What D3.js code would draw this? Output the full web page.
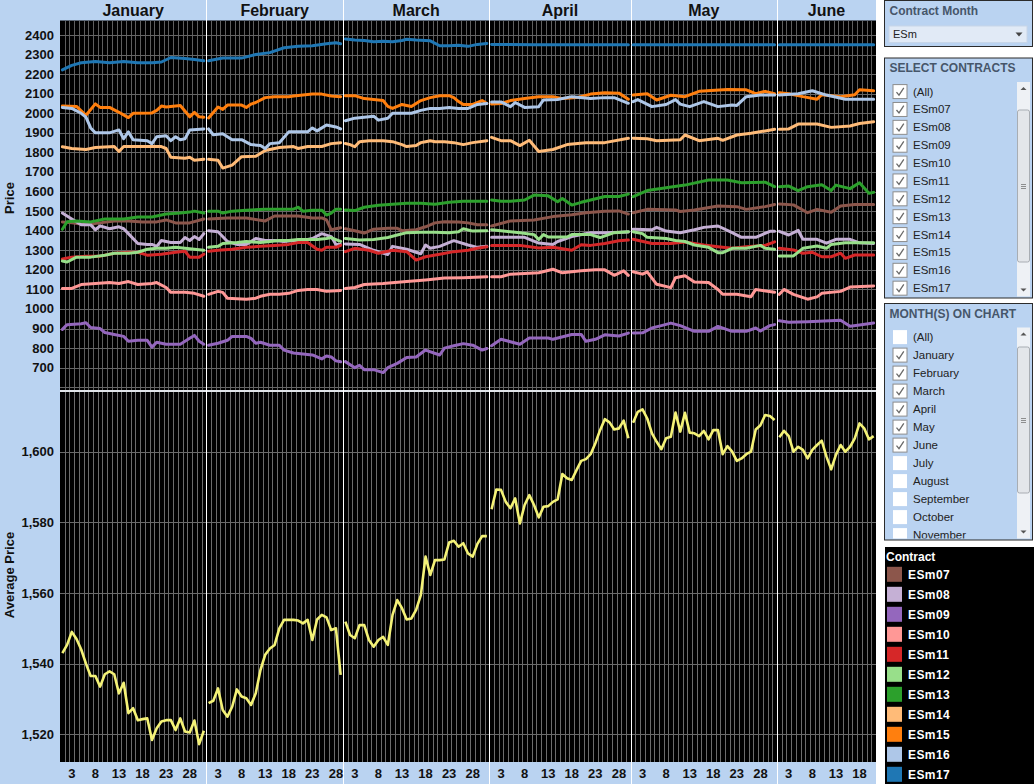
<!DOCTYPE html>
<html>
<head>
<meta charset="utf-8">
<script src="https://cdn.jsdelivr.net/npm/d3@7"></script>
<style>
  body { margin: 0; background: #fff; }
  svg { display: block; font-family: Arial, 'Liberation Sans', sans-serif; }
</style>
</head>
<body>
<svg id="chart"></svg>
<script>
const months = ['January', 'February', 'March', 'April', 'May', 'June'];
const monthDays = [31, 29, 31, 30, 31, 21];
const dayTicks = [3, 8, 13, 18, 23, 28];
const priceTicks = d3.range(700, 2401, 100);
const priceGrid = d3.range(600, 2401, 100);
const avgTicks = [1520, 1540, 1560, 1580, 1600];
const contracts = ['ESm07', 'ESm08', 'ESm09', 'ESm10', 'ESm11', 'ESm12', 'ESm13', 'ESm14', 'ESm15', 'ESm16', 'ESm17'];
const contractColors = ['#8c564b', '#c5b0d5', '#9467bd', '#ff9896', '#d62728', '#98df8a', '#2ca02c', '#ffbb78', '#ff7f0e', '#aec7e8', '#1f77b4'];
const monthFilter = ['(All)', 'January', 'February', 'March', 'April', 'May', 'June', 'July', 'August', 'September', 'October', 'November'];

// [month index, day, price]
const ESm07 = [
  [0,1,1445],[0,3,1440],[0,6,1430],[0,9,1440],[0,12,1450],[0,15,1450],[0,18,1445],[0,21,1445],[0,23,1455],[0,25,1440],[0,28,1440],[0,31,1460],
  [1,1,1460],[1,5,1465],[1,9,1465],[1,13,1450],[1,15,1475],[1,18,1475],[1,20,1475],[1,23,1465],[1,25,1465],[1,26,1455],[1,27,1405],[1,28,1410],[1,29,1415],
  [2,1,1410],[2,3,1400],[2,5,1388],[2,7,1408],[2,10,1412],[2,12,1412],[2,13,1400],[2,16,1405],[2,18,1420],[2,20,1440],[2,22,1446],[2,25,1445],[2,27,1440],[2,29,1430],[2,31,1430],
  [3,1,1424],[3,5,1450],[3,10,1455],[3,14,1472],[3,18,1482],[3,21,1492],[3,25,1500],[3,28,1501],[3,30,1485],
  [4,1,1492],[4,4,1509],[4,10,1506],[4,11,1498],[4,14,1506],[4,19,1526],[4,23,1523],[4,25,1509],[4,29,1523],[4,31,1534],
  [5,1,1536],[5,4,1532],[5,7,1492],[5,9,1509],[5,12,1494],[5,14,1526],[5,17,1534],[5,21,1534]
];
const ESm08 = [
  [0,1,1490],[0,3,1460],[0,5,1430],[0,7,1430],[0,8,1405],[0,9,1425],[0,11,1410],[0,13,1420],[0,14,1410],[0,15,1385],[0,17,1335],[0,19,1330],[0,20,1330],[0,21,1320],[0,22,1350],[0,24,1340],[0,26,1340],[0,27,1365],[0,28,1350],[0,29,1370],[0,30,1355],[0,31,1385],
  [1,1,1400],[1,3,1395],[1,5,1345],[1,7,1330],[1,9,1330],[1,11,1360],[1,13,1350],[1,15,1350],[1,17,1345],[1,19,1350],[1,21,1350],[1,23,1360],[1,25,1385],[1,27,1370],[1,28,1330],[1,29,1330],
  [2,1,1332],[2,4,1330],[2,7,1300],[2,10,1278],[2,11,1320],[2,14,1305],[2,17,1282],[2,18,1327],[2,19,1310],[2,21,1320],[2,24,1349],[2,27,1327],[2,29,1315],[2,31,1320],
  [3,1,1366],[3,8,1366],[3,11,1337],[3,14,1330],[3,15,1345],[3,18,1370],[3,22,1390],[3,25,1390],[3,30,1393],
  [4,1,1407],[4,5,1405],[4,6,1417],[4,8,1398],[4,11,1390],[4,14,1405],[4,16,1417],[4,19,1424],[4,22,1390],[4,24,1366],[4,27,1366],[4,30,1397],[4,31,1397],
  [5,1,1397],[5,3,1378],[5,5,1402],[5,6,1356],[5,9,1356],[5,11,1336],[5,13,1356],[5,16,1356],[5,18,1338],[5,21,1335]
];
const ESm09 = [
  [0,1,896],[0,2,920],[0,5,925],[0,6,930],[0,7,905],[0,9,900],[0,10,880],[0,12,870],[0,14,860],[0,15,835],[0,17,840],[0,19,840],[0,20,805],[0,21,830],[0,23,820],[0,26,820],[0,28,850],[0,29,865],[0,30,835],[0,31,820],
  [1,1,815],[1,3,825],[1,5,840],[1,6,860],[1,8,860],[1,9,860],[1,10,850],[1,11,825],[1,12,830],[1,14,815],[1,16,815],[1,17,790],[1,19,775],[1,21,770],[1,23,765],[1,25,745],[1,26,760],[1,27,755],[1,28,735],[1,29,730],
  [2,1,731],[2,3,700],[2,4,712],[2,5,690],[2,7,690],[2,9,675],[2,10,700],[2,12,722],[2,14,752],[2,16,755],[2,18,790],[2,21,765],[2,22,800],[2,24,812],[2,26,823],[2,28,815],[2,30,790],[2,31,798],
  [3,1,812],[3,3,845],[3,7,820],[3,9,852],[3,13,852],[3,14,845],[3,18,870],[3,20,870],[3,21,835],[3,23,845],[3,25,868],[3,28,862],[3,30,877],
  [4,1,877],[4,3,878],[4,5,903],[4,7,915],[4,9,928],[4,11,915],[4,14,886],[4,17,886],[4,19,911],[4,22,886],[4,25,886],[4,27,903],[4,28,888],[4,30,915],[4,31,920],
  [5,1,940],[5,3,932],[5,7,935],[5,14,943],[5,16,912],[5,18,918],[5,21,928]
];
const ESm10 = [
  [0,1,1105],[0,3,1105],[0,5,1125],[0,8,1130],[0,11,1135],[0,13,1130],[0,15,1140],[0,17,1125],[0,20,1130],[0,21,1135],[0,23,1110],[0,24,1085],[0,27,1085],[0,29,1080],[0,31,1065],
  [1,1,1075],[1,3,1090],[1,4,1085],[1,5,1055],[1,9,1050],[1,11,1055],[1,12,1065],[1,14,1075],[1,16,1075],[1,18,1080],[1,20,1095],[1,22,1100],[1,24,1100],[1,26,1090],[1,29,1095],
  [2,1,1105],[2,3,1110],[2,5,1125],[2,9,1130],[2,14,1140],[2,18,1148],[2,22,1158],[2,26,1160],[2,31,1165],
  [3,1,1165],[3,3,1165],[3,5,1178],[3,11,1185],[3,14,1203],[3,16,1185],[3,20,1195],[3,23,1200],[3,25,1200],[3,27,1172],[3,29,1195],[3,30,1172],
  [4,1,1190],[4,3,1178],[4,4,1190],[4,6,1126],[4,9,1109],[4,10,1160],[4,12,1170],[4,14,1138],[4,17,1135],[4,19,1100],[4,20,1075],[4,23,1075],[4,26,1063],[4,27,1100],[4,31,1085],
  [5,1,1075],[5,2,1100],[5,4,1075],[5,7,1050],[5,9,1062],[5,10,1080],[5,14,1090],[5,16,1112],[5,21,1118]
];
const ESm11 = [
  [0,1,1255],[0,3,1265],[0,6,1270],[0,9,1270],[0,12,1285],[0,15,1290],[0,17,1290],[0,19,1275],[0,22,1280],[0,25,1290],[0,27,1295],[0,28,1265],[0,30,1265],[0,31,1280],
  [1,1,1295],[1,3,1300],[1,6,1305],[1,9,1315],[1,12,1320],[1,15,1325],[1,18,1330],[1,20,1340],[1,22,1340],[1,24,1305],[1,25,1300],[1,26,1315],[1,28,1315],[1,29,1325],
  [2,1,1293],[2,3,1310],[2,6,1300],[2,8,1285],[2,11,1300],[2,14,1293],[2,16,1250],[2,18,1267],[2,21,1280],[2,24,1293],[2,27,1300],[2,29,1310],[2,31,1318],
  [3,1,1325],[3,7,1325],[3,11,1312],[3,14,1315],[3,18,1300],[3,20,1328],[3,22,1325],[3,25,1335],[3,28,1349],[3,30,1352],
  [4,1,1356],[4,5,1335],[4,9,1335],[4,12,1342],[4,16,1327],[4,19,1318],[4,22,1310],[4,25,1318],[4,29,1325],[4,31,1343],
  [5,1,1310],[5,4,1302],[5,6,1285],[5,8,1290],[5,10,1267],[5,12,1267],[5,14,1285],[5,15,1259],[5,17,1276],[5,21,1276]
];
const ESm12 = [
  [0,1,1245],[0,2,1240],[0,4,1265],[0,7,1265],[0,10,1275],[0,12,1285],[0,15,1285],[0,17,1290],[0,19,1305],[0,21,1310],[0,23,1310],[0,25,1315],[0,27,1310],[0,29,1305],[0,31,1300],
  [1,1,1315],[1,3,1320],[1,4,1335],[1,7,1340],[1,9,1345],[1,12,1340],[1,14,1345],[1,16,1350],[1,18,1350],[1,20,1355],[1,22,1355],[1,24,1355],[1,26,1360],[1,27,1365],[1,28,1355],[1,29,1345],
  [2,1,1360],[2,4,1352],[2,7,1355],[2,10,1365],[2,12,1378],[2,14,1390],[2,17,1392],[2,20,1392],[2,23,1390],[2,25,1395],[2,26,1410],[2,28,1398],[2,31,1400],
  [3,1,1405],[3,3,1400],[3,7,1390],[3,10,1380],[3,11,1355],[3,12,1380],[3,13,1368],[3,17,1368],[3,18,1380],[3,22,1380],[3,24,1365],[3,27,1390],[3,30,1395],
  [4,1,1395],[4,3,1385],[4,4,1366],[4,8,1360],[4,10,1350],[4,12,1345],[4,14,1327],[4,17,1315],[4,19,1288],[4,20,1288],[4,22,1310],[4,25,1310],[4,28,1325],[4,29,1310],[4,31,1305],
  [5,1,1271],[5,4,1271],[5,6,1310],[5,9,1322],[5,11,1310],[5,12,1330],[5,15,1338],[5,21,1338]
];
const ESm13 = [
  [0,1,1407],[0,2,1446],[0,4,1450],[0,7,1445],[0,10,1460],[0,14,1460],[0,17,1470],[0,20,1470],[0,23,1485],[0,26,1490],[0,28,1495],[0,29,1500],[0,31,1490],
  [1,1,1500],[1,3,1500],[1,4,1490],[1,6,1500],[1,9,1505],[1,13,1510],[1,16,1510],[1,19,1510],[1,20,1520],[1,21,1500],[1,23,1505],[1,25,1505],[1,26,1480],[1,27,1490],[1,28,1510],[1,29,1510],
  [2,1,1506],[2,3,1503],[2,5,1520],[2,8,1530],[2,11,1535],[2,14,1540],[2,17,1540],[2,20,1535],[2,23,1545],[2,26,1550],[2,28,1550],[2,31,1550],
  [3,1,1557],[3,3,1550],[3,5,1550],[3,8,1557],[3,10,1582],[3,13,1578],[3,15,1548],[3,16,1565],[3,18,1531],[3,20,1545],[3,22,1557],[3,25,1575],[3,28,1575],[3,30,1587],
  [4,1,1574],[4,4,1605],[4,8,1620],[4,12,1633],[4,17,1659],[4,21,1659],[4,24,1645],[4,29,1648],[4,31,1625],
  [5,1,1625],[5,3,1628],[5,5,1605],[5,7,1625],[5,10,1635],[5,12,1605],[5,13,1633],[5,16,1615],[5,18,1645],[5,20,1591],[5,21,1596]
];
const ESm14 = [
  [0,1,1829],[0,3,1820],[0,6,1815],[0,8,1825],[0,12,1830],[0,13,1805],[0,14,1830],[0,16,1830],[0,20,1830],[0,22,1830],[0,23,1820],[0,24,1775],[0,27,1770],[0,28,1775],[0,29,1760],[0,31,1765],
  [1,1,1765],[1,3,1760],[1,4,1720],[1,6,1735],[1,8,1778],[1,11,1780],[1,13,1810],[1,16,1825],[1,19,1830],[1,20,1820],[1,22,1830],[1,25,1830],[1,27,1845],[1,29,1850],
  [2,1,1846],[2,2,1840],[2,3,1829],[2,4,1855],[2,6,1860],[2,9,1860],[2,11,1855],[2,13,1840],[2,14,1830],[2,16,1835],[2,17,1850],[2,18,1855],[2,19,1860],[2,20,1855],[2,22,1855],[2,24,1850],[2,26,1840],[2,28,1850],[2,31,1860],
  [3,1,1877],[3,3,1860],[3,5,1860],[3,7,1835],[3,9,1862],[3,11,1805],[3,14,1815],[3,17,1840],[3,21,1850],[3,25,1850],[3,30,1872],
  [4,1,1872],[4,4,1870],[4,6,1860],[4,11,1865],[4,12,1889],[4,15,1860],[4,19,1872],[4,20,1862],[4,23,1889],[4,26,1898],[4,29,1910],[4,31,1918],
  [5,1,1918],[5,3,1920],[5,5,1945],[5,9,1945],[5,12,1928],[5,16,1935],[5,18,1948],[5,21,1957]
];
const ESm15 = [
  [0,1,2037],[0,4,2035],[0,6,1990],[0,8,2048],[0,9,2030],[0,11,2030],[0,13,2005],[0,15,1978],[0,16,2000],[0,20,2002],[0,21,2015],[0,22,2037],[0,23,2032],[0,26,2040],[0,28,1982],[0,29,2005],[0,30,1982],[0,31,1980],
  [1,1,1976],[1,3,2032],[1,4,2020],[1,5,2042],[1,8,2042],[1,9,2030],[1,10,2047],[1,11,2055],[1,13,2080],[1,15,2085],[1,18,2085],[1,19,2088],[1,21,2093],[1,23,2098],[1,25,2098],[1,27,2088],[1,29,2085],
  [2,1,2090],[2,3,2090],[2,5,2075],[2,7,2070],[2,9,2065],[2,10,2035],[2,11,2025],[2,13,2045],[2,15,2035],[2,17,2065],[2,19,2080],[2,21,2090],[2,23,2090],[2,24,2080],[2,25,2060],[2,26,2045],[2,28,2045],[2,30,2065],[2,31,2050],
  [3,1,2047],[3,3,2050],[3,5,2065],[3,8,2075],[3,11,2085],[3,14,2085],[3,16,2075],[3,19,2080],[3,22,2098],[3,25,2105],[3,28,2103],[3,30,2072],
  [4,1,2093],[4,4,2100],[4,6,2068],[4,9,2092],[4,12,2085],[4,15,2112],[4,21,2122],[4,25,2120],[4,27,2100],[4,29,2112],[4,31,2100],
  [5,1,2105],[5,3,2100],[5,6,2085],[5,9,2072],[5,10,2095],[5,14,2085],[5,17,2095],[5,18,2120],[5,21,2115]
];
const ESm16 = [
  [0,1,2030],[0,3,2025],[0,5,2000],[0,6,1980],[0,7,1925],[0,8,1900],[0,11,1900],[0,13,1915],[0,14,1870],[0,15,1905],[0,16,1865],[0,19,1860],[0,20,1845],[0,21,1880],[0,23,1885],[0,24,1860],[0,25,1880],[0,26,1865],[0,27,1870],[0,28,1915],[0,31,1920],
  [1,1,1920],[1,2,1890],[1,4,1895],[1,6,1865],[1,8,1865],[1,10,1840],[1,12,1835],[1,13,1820],[1,14,1845],[1,16,1850],[1,18,1905],[1,20,1905],[1,22,1905],[1,23,1925],[1,24,1910],[1,26,1940],[1,28,1930],[1,29,1920],
  [2,1,1962],[2,3,1975],[2,5,1980],[2,7,1985],[2,8,1965],[2,10,1975],[2,11,2000],[2,13,2000],[2,15,2000],[2,17,2015],[2,19,2025],[2,21,2025],[2,23,2030],[2,25,2025],[2,27,2025],[2,29,2045],[2,31,2050],
  [3,1,2058],[3,3,2058],[3,5,2034],[3,6,2055],[3,8,2030],[3,11,2034],[3,12,2068],[3,15,2070],[3,18,2085],[3,22,2075],[3,25,2080],[3,27,2080],[3,30,2051],
  [4,1,2059],[4,2,2070],[4,5,2034],[4,8,2045],[4,10,2070],[4,11,2047],[4,13,2034],[4,16,2060],[4,19,2034],[4,22,2042],[4,23,2040],[4,25,2085],[4,28,2093],[4,31,2093],
  [5,1,2093],[5,5,2100],[5,8,2115],[5,11,2093],[5,15,2072],[5,21,2072]
];
const ESm17 = [
  [0,1,2222],[0,3,2245],[0,5,2258],[0,8,2265],[0,11,2258],[0,14,2265],[0,17,2258],[0,20,2258],[0,22,2262],[0,24,2285],[0,27,2280],[0,29,2275],[0,31,2268],
  [1,1,2268],[1,4,2282],[1,8,2282],[1,11,2300],[1,14,2310],[1,17,2335],[1,20,2342],[1,23,2345],[1,26,2355],[1,28,2360],[1,29,2355],
  [2,1,2380],[2,3,2375],[2,5,2372],[2,7,2365],[2,9,2368],[2,11,2366],[2,13,2372],[2,14,2378],[2,16,2374],[2,19,2370],[2,21,2345],[2,23,2345],[2,25,2348],[2,27,2342],[2,29,2352],[2,31,2357],
  [3,1,2352],[3,10,2350],[3,20,2350],[3,30,2350],
  [4,1,2350],[4,31,2350],
  [5,1,2350],[5,21,2350]
];
const seriesData = [ESm07, ESm08, ESm09, ESm10, ESm11, ESm12, ESm13, ESm14, ESm15, ESm16, ESm17];

// average price, one value per calendar day
const avgJan = [1543,1545.3,1549,1547,1544,1540,1536.5,1536.5,1533.5,1537,1537.8,1537,1531.6,1534.6,1526,1527.4,1524,1524.3,1524.5,1518.4,1521.7,1523.6,1524,1524,1521.2,1524.5,1520.8,1520.5,1523.9,1517.2,1521];
const avgFeb = [1528.8,1529.5,1533,1526.9,1525,1527.8,1532.7,1530.7,1530.2,1528.3,1531.6,1538.2,1542.5,1544.3,1545.3,1550,1552.4,1552.4,1552.4,1552.2,1551.4,1552.4,1546.7,1552.5,1553.8,1553.1,1549.5,1550,1536.8];
const avgMar = [1551.9,1548.1,1547.2,1550.9,1550.9,1546.7,1544.8,1546.7,1547.6,1545.3,1553.8,1558,1555.7,1552.5,1552.8,1555.2,1559.4,1570.3,1565.1,1569.3,1569.3,1569.5,1574.3,1574.8,1573.1,1574.1,1571.2,1570.3,1573.9,1576.1,1576.1];
const avgApr = [1583.7,1589.3,1589.2,1585.8,1584,1586.8,1579.7,1584.9,1587.7,1584.9,1581.4,1584.4,1584.6,1585.8,1586.5,1593.7,1592.5,1592,1594.8,1597.4,1597.9,1599.3,1602.4,1606.1,1609.2,1608.3,1606.3,1606.6,1608.8,1603.8];
const avgMay = [1608.2,1611.3,1612,1609.4,1605.2,1602.8,1600.7,1603.8,1604.2,1611.1,1605.7,1611,1605.4,1605.2,1604.4,1605.9,1603.5,1606.1,1606.1,1599.3,1601.6,1600,1597.4,1598.1,1599.3,1600,1606.3,1607.5,1610.4,1610.1,1609];
const avgJun = [1604.1,1605.9,1604.4,1600,1601.4,1600.5,1598.1,1600.5,1601.9,1603.1,1598.6,1595,1599.1,1601.9,1600,1601.4,1603.8,1608,1606.6,1603.5,1604.4];
const avgByMonth = [avgJan, avgFeb, avgMar, avgApr, avgMay, avgJun];

const W = 1034, H = 784;
const plotL = 60, plotR = 876;
const topY0 = 20.5, topY1 = 390.3;
const botY0 = 391.7, botY1 = 762;
const bgBlue = '#bad3f1';

const svg = d3.select('#chart').attr('width', W).attr('height', H);

// one band per calendar day, months laid side by side
const dayKeys = [];
months.forEach((m, mi) => {
  for (let d = 1; d <= monthDays[mi]; d++) dayKeys.push(mi + '-' + d);
});
const x = d3.scaleBand().domain(dayKeys).range([plotL, plotR]).padding(0);
const xc = (mi, d) => x(mi + '-' + d) + x.bandwidth() / 2;
const monthStart = mi => x(mi + '-1');
const monthEnd = mi => x(mi + '-' + monthDays[mi]) + x.bandwidth();

const yTop = d3.scaleLinear().domain([700, 2400]).range([367.7, 35]);
const yBot = d3.scaleLinear().domain([1520, 1600]).range([734.3, 451.7]);

// backgrounds
svg.append('rect').attr('x', 0).attr('y', 0).attr('width', plotR).attr('height', H).attr('fill', bgBlue);
svg.append('rect').attr('x', plotL).attr('y', topY0).attr('width', plotR - plotL).attr('height', topY1 - topY0).attr('fill', '#000');
svg.append('rect').attr('x', plotL).attr('y', botY0).attr('width', plotR - plotL).attr('height', botY1 - botY0).attr('fill', '#000');

const defs = svg.append('defs');
defs.append('clipPath').attr('id', 'clipTop').append('rect')
  .attr('x', plotL).attr('y', topY0).attr('width', plotR - plotL).attr('height', topY1 - topY0);
defs.append('clipPath').attr('id', 'clipBot').append('rect')
  .attr('x', plotL).attr('y', botY0).attr('width', plotR - plotL).attr('height', botY1 - botY0);

// vertical day grid
const grid = svg.append('g').attr('shape-rendering', 'crispEdges');
dayKeys.forEach(k => {
  if (k.endsWith('-1')) return;
  const gx = Math.round(x(k)) + 0.5;
  grid.append('line').attr('x1', gx).attr('x2', gx).attr('y1', topY0).attr('y2', topY1)
    .attr('stroke', '#5e5e5e').attr('stroke-width', 1);
  grid.append('line').attr('x1', gx).attr('x2', gx).attr('y1', botY0).attr('y2', botY1)
    .attr('stroke', '#6c6c6c').attr('stroke-width', 1);
});

// horizontal grid
priceGrid.forEach(v => {
  const gy = Math.round(yTop(v)) + 0.5;
  if (gy < topY0 || gy > topY1) return;
  grid.append('line').attr('x1', plotL).attr('x2', plotR).attr('y1', gy).attr('y2', gy)
    .attr('stroke', '#666').attr('stroke-width', 1);
});
avgTicks.forEach(v => {
  const gy = Math.round(yBot(v)) + 0.5;
  grid.append('line').attr('x1', plotL).attr('x2', plotR).attr('y1', gy).attr('y2', gy)
    .attr('stroke', '#6a6a6a').attr('stroke-width', 1);
});

// separator between the two panes
svg.append('line').attr('x1', plotL).attr('x2', plotR).attr('y1', 391).attr('y2', 391)
  .attr('stroke', '#fff').attr('stroke-width', 1.3);

// month separators
months.forEach((m, mi) => {
  if (mi === 0) return;
  const sx = Math.round(monthStart(mi)) + 0.5;
  svg.append('line').attr('x1', sx).attr('x2', sx).attr('y1', 0).attr('y2', H)
    .attr('stroke', '#fff').attr('stroke-width', 1).attr('shape-rendering', 'crispEdges');
});

// month headers
months.forEach((m, mi) => {
  svg.append('text')
    .attr('x', (monthStart(mi) + monthEnd(mi)) / 2)
    .attr('y', 15.5)
    .attr('text-anchor', 'middle')
    .attr('font-size', 16).attr('font-weight', 'bold').attr('fill', '#111')
    .text(m);
});

// y tick labels
priceTicks.forEach(v => {
  svg.append('text').attr('x', 54).attr('y', yTop(v) + 4.5)
    .attr('text-anchor', 'end').attr('font-size', 13).attr('font-weight', 'bold').attr('fill', '#111')
    .text(v);
});
avgTicks.forEach(v => {
  svg.append('text').attr('x', 54).attr('y', yBot(v) + 4.5)
    .attr('text-anchor', 'end').attr('font-size', 13).attr('font-weight', 'bold').attr('fill', '#111')
    .text(d3.format(',')(v));
});

// axis titles
svg.append('text').attr('transform', 'translate(14,198) rotate(-90)')
  .attr('text-anchor', 'middle').attr('font-size', 13).attr('font-weight', 'bold').attr('fill', '#111')
  .text('Price');
svg.append('text').attr('transform', 'translate(14,575) rotate(-90)')
  .attr('text-anchor', 'middle').attr('font-size', 13).attr('font-weight', 'bold').attr('fill', '#111')
  .text('Average Price');

// day ticks at the bottom
months.forEach((m, mi) => {
  dayTicks.filter(d => d <= monthDays[mi]).forEach(d => {
    svg.append('text').attr('x', xc(mi, d)).attr('y', 777.5)
      .attr('text-anchor', 'middle').attr('font-size', 13).attr('font-weight', 'bold').attr('fill', '#111')
      .text(d);
  });
});

// contract lines, broken at every month
const topLine = d3.line().x(p => xc(p[0], p[1])).y(p => yTop(p[2]));
const topG = svg.append('g').attr('clip-path', 'url(#clipTop)');
seriesData.forEach((series, si) => {
  d3.groups(series, p => p[0]).forEach(([mi, pts]) => {
    topG.append('path')
      .attr('d', topLine(pts))
      .attr('fill', 'none')
      .attr('stroke', contractColors[si])
      .attr('stroke-width', 3)
      .attr('stroke-linejoin', 'round')
      .attr('stroke-linecap', 'round');
  });
});

// average price line
const botLine = d3.line().x(p => xc(p[0], p[1])).y(p => yBot(p[2]));
const botG = svg.append('g').attr('clip-path', 'url(#clipBot)');
avgByMonth.forEach((vals, mi) => {
  const pts = vals.map((v, i) => [mi, i + 1, v]);
  botG.append('path')
    .attr('d', botLine(pts))
    .attr('fill', 'none')
    .attr('stroke', '#f4f277')
    .attr('stroke-width', 2.6)
    .attr('stroke-linejoin', 'round');
});

// ---- right side widgets ----
const panelX = 884.5, panelW = 148;
const titleColor = '#46566a';

function drawCheck(g, bx, by, checked, bordered) {
  g.append('rect').attr('x', bx).attr('y', by).attr('width', 14).attr('height', 14)
    .attr('fill', '#fff').attr('stroke', bordered ? '#8c8c8c' : 'none').attr('stroke-width', 1);
  if (checked) {
    g.append('path')
      .attr('d', `M${bx + 3.5},${by + 7.5} L${bx + 6},${by + 10.5} L${bx + 10.8},${by + 3.2}`)
      .attr('fill', 'none').attr('stroke', '#6a6a6a').attr('stroke-width', 1.3);
  }
}

function drawScroll(g, sx, y0, y1, t0, t1) {
  g.append('rect').attr('x', sx).attr('y', y0).attr('width', 13).attr('height', y1 - y0).attr('fill', '#eef1f5');
  g.append('path').attr('d', `M${sx + 3.5},${y0 + 8} L${sx + 6.5},${y0 + 5} L${sx + 9.5},${y0 + 8}Z`).attr('fill', '#555');
  g.append('path').attr('d', `M${sx + 3.5},${y1 - 8} L${sx + 6.5},${y1 - 5} L${sx + 9.5},${y1 - 8}Z`).attr('fill', '#555');
  g.append('rect').attr('x', sx + 0.5).attr('y', t0).attr('width', 12).attr('height', t1 - t0).attr('rx', 2)
    .attr('fill', '#e3e6ea').attr('stroke', '#a8adb3');
  const gy = (t0 + t1) / 2;
  [-2, 0, 2].forEach(o => {
    g.append('line').attr('x1', sx + 4).attr('x2', sx + 9).attr('y1', gy + o + 0.5).attr('y2', gy + o + 0.5)
      .attr('stroke', '#777').attr('stroke-width', 0.8);
  });
}

function drawList(top, height, title, items, step, checkedFn, borderFn, scroll) {
  const g = svg.append('g');
  g.append('rect').attr('x', panelX).attr('y', top).attr('width', panelW).attr('height', height)
    .attr('fill', bgBlue).attr('stroke', '#2b2b2b').attr('stroke-width', 1);
  g.append('text').attr('x', panelX + 5).attr('y', top + 14)
    .attr('font-size', 12).attr('font-weight', 'bold').attr('fill', titleColor).text(title);
  const clipId = 'clip' + Math.round(top);
  defs.append('clipPath').attr('id', clipId).append('rect')
    .attr('x', panelX).attr('y', top + 21).attr('width', panelW).attr('height', height - 22.5);
  const list = g.append('g').attr('clip-path', `url(#${clipId})`);
  items.forEach((it, i) => {
    const cy = top + 33.6 + i * step;
    drawCheck(list, 893, cy - 7, checkedFn(i), borderFn(i));
    list.append('text').attr('x', 913).attr('y', cy + 4)
      .attr('font-size', 11.5).attr('fill', '#222').text(it);
  });
  drawScroll(g, 1017, top + 24, top + height - 1.5, scroll[0], scroll[1]);
}

// contract month dropdown
const dd = svg.append('g');
dd.append('rect').attr('x', panelX).attr('y', 0.5).attr('width', panelW).attr('height', 46)
  .attr('fill', bgBlue).attr('stroke', '#2b2b2b').attr('stroke-width', 1);
dd.append('text').attr('x', panelX + 5).attr('y', 15)
  .attr('font-size', 12).attr('font-weight', 'bold').attr('fill', titleColor).text('Contract Month');
dd.append('rect').attr('x', 889).attr('y', 26).attr('width', 138).attr('height', 16.5)
  .attr('fill', '#e1eaf6').attr('stroke', '#c8d6e8');
dd.append('text').attr('x', 893).attr('y', 38).attr('font-size', 11).attr('fill', '#222').text('ESm');
dd.append('path').attr('d', 'M1015.5,32.5 L1022.5,32.5 L1019,36.5Z').attr('fill', '#444');

drawList(58, 240, 'SELECT CONTRACTS', ['(All)'].concat(contracts), 17.87, () => true, () => true, [110, 262]);
drawList(303.5, 236.5, 'MONTH(S) ON CHART', monthFilter, 18, i => i >= 1 && i <= 6, i => i >= 1 && i <= 6, [347, 493]);

// colour legend
const lg = svg.append('g');
lg.append('rect').attr('x', 885).attr('y', 547).attr('width', W - 885).attr('height', H - 547).attr('fill', '#000');
lg.append('text').attr('x', 886).attr('y', 561)
  .attr('font-size', 12).attr('font-weight', 'bold').attr('fill', '#fff').text('Contract');
contracts.forEach((c, i) => {
  const cy = 574.3 + i * 20;
  lg.append('rect').attr('x', 887).attr('y', cy - 7.5).attr('width', 15).attr('height', 15).attr('fill', contractColors[i]);
  lg.append('text').attr('x', 908).attr('y', cy + 4.5)
    .attr('font-size', 12).attr('font-weight', 'bold').attr('fill', '#fff')
    .attr('letter-spacing', 0.4).text(c);
});
</script>
</body>
</html>
